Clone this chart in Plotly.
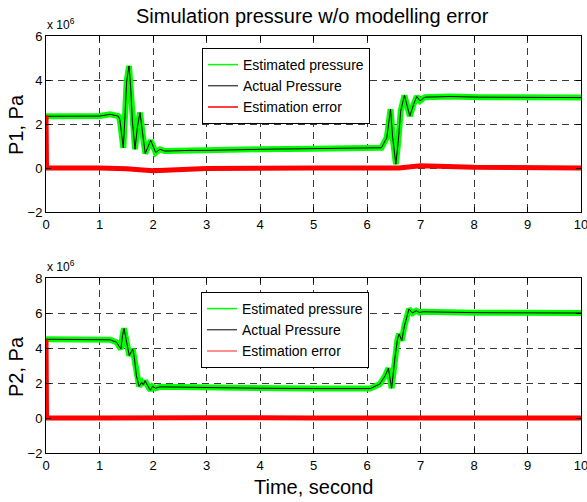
import plotly.graph_objects as go

# ---------------- data (pressures in units of 1e6 Pa) ----------------
t1 = [0, 1.0, 1.2, 1.35, 1.38, 1.445, 1.477, 1.508, 1.552, 1.583, 1.614, 1.664,
      1.707, 1.757, 1.8, 1.855, 1.957, 2.05, 2.13, 2.22, 2.69, 3.0, 4.0, 5.0, 6.0,
      6.27, 6.37, 6.40, 6.44, 6.48, 6.54, 6.585, 6.63, 6.70, 6.75, 6.80, 6.87,
      6.93, 6.99, 7.08, 7.55, 8.1, 10]
p1 = [2.35, 2.36, 2.44, 2.36, 2.2, 0.92, 2.38, 3.95, 4.64, 3.65, 2.14, 0.85,
      1.83, 2.52, 1.68, 0.66, 1.26, 0.7, 0.85, 0.77, 0.8, 0.8, 0.85, 0.88, 0.9,
      0.92, 1.38, 2.06, 2.67, 1.38, 0.17, 1.23, 2.59, 3.3, 2.82, 2.36, 2.89,
      3.25, 3.05, 3.22, 3.25, 3.22, 3.2]
te1 = [0, 0.01, 1.0, 1.5, 2.0, 2.5, 3.0, 5.0, 6.4, 6.6, 7.0, 8.0, 10]
e1 = [2.4, 0.0, 0.0, -0.03, -0.12, -0.05, -0.02, 0.0, 0.0, 0.0, 0.1, 0.03, 0.0]

t2 = [0, 1.1, 1.2, 1.32, 1.40, 1.43, 1.458, 1.508, 1.557, 1.62, 1.65, 1.69,
      1.74, 1.79, 1.82, 1.85, 1.95, 1.99, 2.05, 2.13, 2.69, 3.0, 4.0, 5.0, 6.06,
      6.24, 6.34, 6.40, 6.46, 6.52, 6.57, 6.60, 6.65, 6.70, 6.785, 6.85, 6.92,
      6.98, 7.04, 8.0, 10]
p2 = [4.5, 4.5, 4.47, 4.32, 3.94, 4.7, 5.12, 4.32, 3.56, 3.94, 3.47, 2.42,
      1.81, 2.04, 1.89, 2.13, 1.58, 1.81, 1.7, 1.78, 1.75, 1.72, 1.7, 1.68, 1.68,
      1.94, 2.42, 2.84, 1.7, 3.37, 4.51, 4.8, 4.42, 5.27, 6.23, 6.0, 6.13,
      6.03, 6.07, 6.02, 6.0]
te2 = [0, 0.01, 1.0, 2.0, 2.5, 3.0, 5.0, 7.0, 10]
e2 = [4.5, 0.0, 0.0, 0.03, 0.05, 0.02, 0.0, 0.0, 0.0]

x_ticks = [0, 1, 2, 3, 4, 5, 6, 7, 8, 9, 10]
y1_ticks = [-2, 0, 2, 4, 6]
y2_ticks = [-2, 0, 2, 4, 6, 8]

names = ["Estimated pressure", "Actual Pressure", "Estimation error"]
GREEN, BLACK, RED = "#00ff00", "#000000", "#ff0000"

W, H = 587, 502
def px_x(p): return p / W
def px_y(p): return 1 - p / H

fig = go.Figure()

# top panel
fig.add_trace(go.Scatter(x=t1, y=p1, mode="lines", line=dict(color=GREEN, width=6),
                         showlegend=False, xaxis="x", yaxis="y"))
fig.add_trace(go.Scatter(x=t1, y=p1, mode="lines", line=dict(color=BLACK, width=1),
                         showlegend=False, xaxis="x", yaxis="y"))
fig.add_trace(go.Scatter(x=te1, y=e1, mode="lines", line=dict(color=RED, width=5),
                         showlegend=False, xaxis="x", yaxis="y"))
# bottom panel
fig.add_trace(go.Scatter(x=t2, y=p2, mode="lines", line=dict(color=GREEN, width=6),
                         showlegend=False, xaxis="x2", yaxis="y2"))
fig.add_trace(go.Scatter(x=t2, y=p2, mode="lines", line=dict(color=BLACK, width=1),
                         showlegend=False, xaxis="x2", yaxis="y2"))
fig.add_trace(go.Scatter(x=te2, y=e2, mode="lines", line=dict(color=RED, width=5),
                         showlegend=False, xaxis="x2", yaxis="y2"))

# legend entries (thin sample lines)
for lg, xa, ya, cols in [("legend", "x", "y", [GREEN, BLACK, RED]),
                         ("legend2", "x2", "y2", [GREEN, BLACK, "#ff6a6a"])]:
    for nm, c in zip(names, cols):
        fig.add_trace(go.Scatter(x=[None], y=[None], mode="lines", name=nm,
                                 line=dict(color=c, width=1.5 if c != BLACK else 1),
                                 legend=lg, xaxis=xa, yaxis=ya))

tickfont = dict(family="Arial, Liberation Sans, sans-serif", size=13, color="black")
axis_common = dict(showline=True, linecolor="black", linewidth=1, mirror="ticks",
                   ticks="inside", ticklen=5, tickcolor="black", tickfont=tickfont,
                   showgrid=True, gridcolor="#3a3a3a", gridwidth=1, griddash="7px,5px",
                   zeroline=False, automargin=False, ticklabeloverflow="allow")

def ann(text, x, y, size, **kw):
    d = dict(text=text, x=px_x(x), y=px_y(y), xref="paper", yref="paper",
             xanchor="center", yanchor="middle", showarrow=False, font=dict(size=size))
    d.update(kw)
    return d

xdom = [px_x(46), px_x(581)]
legend_common = dict(xanchor="left", yanchor="top", bordercolor="black", borderwidth=1,
                     bgcolor="white", font=dict(size=14, color="black"),
                     tracegroupgap=0)
fig.update_layout(
    width=W, height=H, margin=dict(l=0, r=0, t=0, b=0, autoexpand=False),
    paper_bgcolor="white", plot_bgcolor="white",
    font=dict(family="Arial, Liberation Sans, sans-serif", color="black"),
    xaxis=dict(domain=xdom, range=[0, 10], tickvals=x_ticks, anchor="y", **axis_common),
    yaxis=dict(domain=[px_y(212), px_y(36)], range=[-2, 6], tickvals=y1_ticks,
               anchor="x", **axis_common),
    xaxis2=dict(domain=xdom, range=[0, 10], tickvals=x_ticks, anchor="y2", **axis_common),
    yaxis2=dict(domain=[px_y(453), px_y(278)], range=[-2, 8], tickvals=y2_ticks,
                anchor="x2", **axis_common),
    legend=dict(x=px_x(202), y=px_y(48), **legend_common),
    legend2=dict(x=px_x(201), y=px_y(292), **legend_common),
    annotations=[
        ann("Simulation pressure w/o modelling error", 312, 16, 20),
        ann("x 10<sup>6</sup>", 45, 24, 12, xanchor="left"),
        ann("x 10<sup>6</sup>", 45, 266, 12, xanchor="left"),
        ann("P1, Pa", 16, 125, 20, textangle=-90),
        ann("P2, Pa", 16, 367, 20, textangle=-90),
        ann("Time, second", 313, 487, 20),
    ],
)

fig.write_html("out.html", config={"displayModeBar": False},
               post_script="document.body.style.margin='0px';")
